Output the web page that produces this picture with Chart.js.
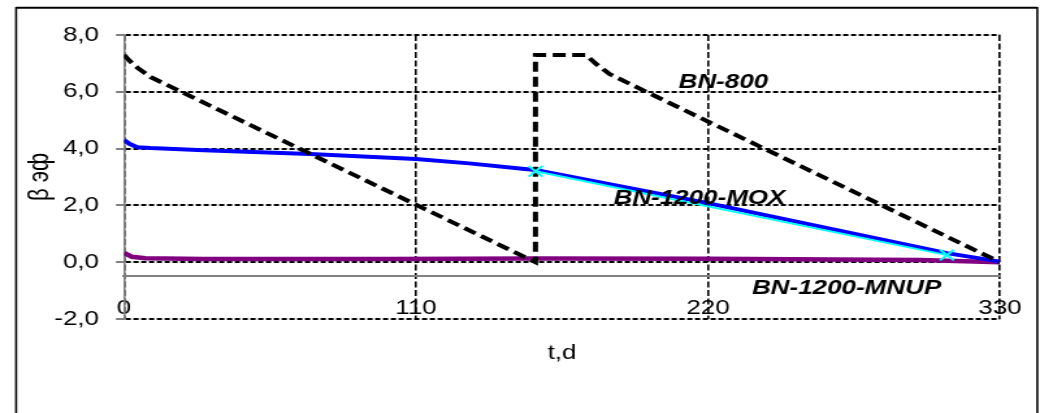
<!DOCTYPE html>
<html>
<head>
<meta charset="utf-8">
<title>β эф</title>
<script src="https://cdn.jsdelivr.net/npm/chart.js@4.4.1/dist/chart.umd.min.js"></script>
<style>
    html, body { margin: 0; padding: 0; background: #fff; overflow: hidden; }
</style>
</head>
<body>
<!-- drawn at 800 wide and shown at 1040, the source picture is stretched sideways -->
<canvas id="betaChart" width="800" height="413" style="width:1040px;height:413px;display:block"></canvas>
<script>
const xTicks = [0, 110, 220, 330];
const yTicks = [-2, 0, 2, 4, 6, 8];

// BN-800
const days800 = [0, 2, 5, 10, 155, 155, 174, 178, 183, 330];
const beta800 = [7.3, 7.1, 6.85, 6.52, 0, 7.3, 7.3, 6.97, 6.62, 0];

// BN-1200-MOX
const daysMox = [0, 2, 5, 10, 30, 70, 110, 130, 150, 155, 220, 310, 330];
const betaMox = [4.3, 4.17, 4.05, 4.02, 3.94, 3.81, 3.63, 3.48, 3.29, 3.25, 2.08, 0.32, 0.02];

// BN-1200-MOX, marked points
const daysMoxMark = [155, 310];
const betaMoxMark = [3.2, 0.25];

// BN-1200-MNUP
const daysMnup = [0, 3, 8, 30, 100, 155, 220, 300, 330];
const betaMnup = [0.33, 0.19, 0.14, 0.11, 0.11, 0.13, 0.12, 0.08, 0.0];

function points(xs, ys) {
    return xs.map(function (x, i) { return { x: x, y: ys[i] }; });
}

const seriesLabels = {
    id: 'seriesLabels',
    afterDatasetsDraw: function (chart) {
        const c = chart.ctx;
        const sx = chart.scales.x, sy = chart.scales.y;
        const items = [
            ['BN-800', 225.8, 6.33],
            ['BN-1200-MOX', 216.8, 2.24],
            ['BN-1200-MNUP', 272.2, -0.94]
        ];
        c.save();
        c.font = 'italic bold 20px "Liberation Sans", Arial, sans-serif';
        c.fillStyle = '#000';
        c.textAlign = 'center';
        c.textBaseline = 'middle';
        items.forEach(function (it) {
            c.fillText(it[0], sx.getPixelForValue(it[1]), sy.getPixelForValue(it[2]));
        });
        c.restore();
    }
};

const outerFrame = {
    id: 'outerFrame',
    afterDraw: function (chart) {
        const c = chart.ctx;
        c.save();
        c.strokeStyle = '#000';
        c.lineWidth = 2;
        c.beginPath();
        c.moveTo(12.4, 7.7);
        c.lineTo(797.9, 7.7);
        c.stroke();
        c.lineWidth = 1.6;
        c.beginPath();
        c.moveTo(12.4, 7);
        c.lineTo(12.4, 413);
        c.moveTo(797.9, 7);
        c.lineTo(797.9, 413);
        c.stroke();
        c.restore();
    }
};

document.addEventListener('DOMContentLoaded', function () {

    Chart.defaults.font.family = '"Liberation Sans", Arial, sans-serif';
    Chart.defaults.font.size = 20;
    Chart.defaults.color = '#000';

    const ctx = document.getElementById('betaChart').getContext('2d');

    new Chart(ctx, {
        type: 'line',
        data: {
            datasets: [
                {
                    label: 'BN-1200-MOX points',
                    data: points(daysMoxMark, betaMoxMark),
                    borderColor: '#00FFFF',
                    borderWidth: 2,
                    pointStyle: 'crossRot',
                    pointRadius: 7.5,
                    pointBorderWidth: 2,
                    pointBorderColor: '#00FFFF',
                    tension: 0
                },
                {
                    label: 'BN-800',
                    data: points(days800, beta800),
                    borderColor: '#000',
                    borderWidth: 4,
                    borderDash: [10, 5],
                    pointRadius: 0,
                    tension: 0
                },
                {
                    label: 'BN-1200-MOX',
                    data: points(daysMox, betaMox),
                    borderColor: '#0000FF',
                    borderWidth: 4,
                    pointRadius: 0,
                    tension: 0
                },
                {
                    label: 'BN-1200-MNUP',
                    data: points(daysMnup, betaMnup),
                    borderColor: '#800080',
                    borderWidth: 4.5,
                    pointRadius: 0,
                    tension: 0
                }
            ]
        },
        options: {
            responsive: false,
            animation: false,
            devicePixelRatio: 1,
            layout: {
                padding: { left: 0, right: 30.8, top: 35, bottom: 48 }
            },
            plugins: {
                legend: { display: false },
                tooltip: { enabled: false }
            },
            scales: {
                x: {
                    type: 'linear',
                    position: 'bottom',
                    min: 0,
                    max: 330,
                    afterBuildTicks: function (s) {
                        s.ticks = xTicks.map(function (v) { return { value: v }; });
                    },
                    ticks: { display: false },
                    grid: {
                        color: '#000',
                        lineWidth: 1.6,
                        drawTicks: false
                    },
                    border: {
                        display: false,
                        dash: [6, 2.5]
                    },
                    title: {
                        display: true,
                        text: 't,d',
                        padding: { top: 22, bottom: 0 }
                    }
                },
                // category axis line crossing at -0.5, carries the day labels
                xLine: {
                    type: 'linear',
                    axis: 'x',
                    position: { y: -0.5 },
                    min: 0,
                    max: 330,
                    afterBuildTicks: function (s) {
                        s.ticks = xTicks.map(function (v) { return { value: v }; });
                    },
                    afterFit: function (s) {
                        s.height = 0;
                        s.paddingLeft = 0;
                        s.paddingRight = 0;
                    },
                    ticks: {
                        padding: 20.5,
                        autoSkip: false,
                        maxRotation: 0
                    },
                    grid: {
                        drawOnChartArea: false,
                        drawTicks: false
                    },
                    border: {
                        color: '#808080',
                        width: 2
                    }
                },
                y: {
                    min: -2,
                    max: 8,
                    afterBuildTicks: function (s) {
                        s.ticks = yTicks.map(function (v) { return { value: v }; });
                    },
                    afterFit: function (s) {
                        s.width = 95.4;
                    },
                    ticks: {
                        padding: 13,
                        callback: function (value) {
                            return value.toFixed(1).replace('.', ',');
                        }
                    },
                    grid: {
                        color: '#000',
                        lineWidth: 2,
                        tickColor: '#808080',
                        tickLength: 6.2,
                        tickWidth: 2
                    },
                    border: {
                        color: '#808080',
                        width: 1.6,
                        dash: [4, 2]
                    },
                    title: {
                        display: true,
                        text: 'β эф',
                        font: { size: 22 },
                        padding: { top: 17.6, bottom: 0 }
                    }
                }
            }
        },
        plugins: [seriesLabels, outerFrame]
    });

});
</script>
</body>
</html>
